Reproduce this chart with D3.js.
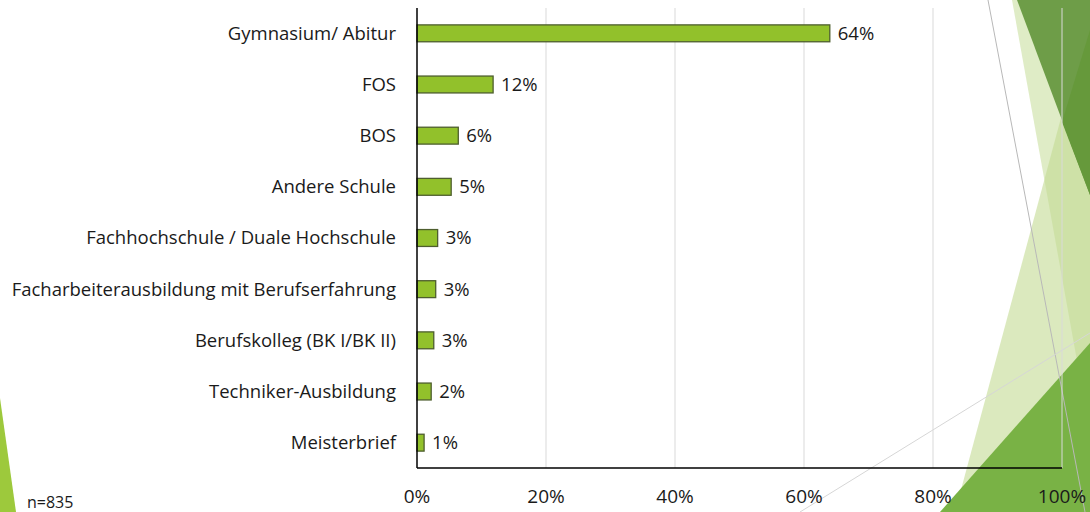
<!DOCTYPE html>
<html>
<head>
<meta charset="utf-8">
<script src="https://cdn.jsdelivr.net/npm/d3@7"></script>
<style>
  body { margin: 0; background: #fff; }
  svg { display: block; font-family: "Open Sans", sans-serif; }
</style>
</head>
<body>
<svg width="1090" height="512"></svg>
<script>
// data
const categories = [
  "Gymnasium/ Abitur",
  "FOS",
  "BOS",
  "Andere Schule",
  "Fachhochschule / Duale Hochschule",
  "Facharbeiterausbildung mit Berufserfahrung",
  "Berufskolleg (BK I/BK II)",
  "Techniker-Ausbildung",
  "Meisterbrief"
];
const shares = [64.0, 11.8, 6.4, 5.3, 3.2, 2.9, 2.6, 2.2, 1.1];
const xTicks = [0, 20, 40, 60, 80, 100];
const sampleNote = "n=835";

const svg = d3.select("svg"),
  width = +svg.attr("width"),
  height = +svg.attr("height");

// decorative slide background (not data)
const deco = svg.append("g");
const shape = d3.line();
deco.append("path").attr("d", shape([[0, 398], [16, 512], [0, 512]]) + "Z").attr("fill", "#9dc93c");
deco.append("path").attr("d", shape([[1012, 0], [1090, 0], [1090, 433]]) + "Z").attr("fill", "#c9e0a0").attr("opacity", 0.6);
deco.append("path").attr("d", shape([[1090, 10], [955, 512], [1090, 512]]) + "Z").attr("fill", "#c3db93").attr("opacity", 0.6);
deco.append("path").attr("d", shape([[1017, 0], [1090, 0], [1090, 195]]) + "Z").attr("fill", "#6e9d48");
deco.append("path").attr("d", shape([[1090, 30], [1062, 122], [1090, 195]]) + "Z").attr("fill", "#66993b");
deco.append("path").attr("d", shape([[940, 512], [1090, 343], [1090, 512]]) + "Z").attr("fill", "#79b245");
deco.append("line").attr("x1", 988).attr("y1", 0).attr("x2", 1085).attr("y2", 512)
  .attr("stroke", "#b8b8b8").attr("stroke-width", 1);
deco.append("line").attr("x1", 800).attr("y1", 512).attr("x2", 1090).attr("y2", 333)
  .attr("stroke", "#d6d6d6").attr("stroke-width", 1);

const margin = { top: 8, left: 417, right: 28, bottom: 44 };
const x = d3.scaleLinear().domain([0, 100]).range([margin.left, width - margin.right]);
const y = d3.scaleBand().domain(categories).range([margin.top, height - margin.bottom]).paddingInner(0.67).paddingOuter(0.33);

// gridlines
svg.append("g")
  .selectAll("line")
  .data(xTicks.slice(1))
  .enter()
  .append("line")
  .attr("x1", d => x(d)).attr("x2", d => x(d))
  .attr("y1", margin.top).attr("y2", height - margin.bottom)
  .attr("stroke", "#d9d9d9").attr("stroke-width", 1);

// x tick labels
svg.append("g")
  .selectAll("text")
  .data(xTicks)
  .enter()
  .append("text")
  .attr("x", d => x(d))
  .attr("y", 503)
  .attr("text-anchor", "middle")
  .attr("font-size", "19px")
  .attr("fill", "#1a1a1a")
  .text(d => d + "%");

// bars
svg.append("g")
  .selectAll("rect")
  .data(shares)
  .enter()
  .append("rect")
  .attr("x", x(0))
  .attr("y", (d, i) => y(categories[i]))
  .attr("width", d => x(d) - x(0))
  .attr("height", y.bandwidth())
  .attr("fill", "#92c12b")
  .attr("stroke", "#4e5e2e")
  .attr("stroke-width", 1.3);

// value labels
svg.append("g")
  .selectAll("text")
  .data(shares)
  .enter()
  .append("text")
  .attr("x", d => x(d) + 8)
  .attr("y", (d, i) => y(categories[i]) + y.bandwidth() / 2)
  .attr("dy", "0.35em")
  .attr("font-size", "18.5px")
  .attr("fill", "#1a1a1a")
  .text(d => d3.format(".0f")(d) + "%");

// category labels
svg.append("g")
  .selectAll("text")
  .data(categories)
  .enter()
  .append("text")
  .attr("x", margin.left - 21)
  .attr("y", d => y(d) + y.bandwidth() / 2)
  .attr("dy", "0.35em")
  .attr("text-anchor", "end")
  .attr("font-size", "18.5px")
  .attr("fill", "#1a1a1a")
  .text(d => d);

// axis lines
svg.append("line")
  .attr("x1", x(0)).attr("x2", x(0))
  .attr("y1", margin.top).attr("y2", height - margin.bottom)
  .attr("stroke", "#000").attr("stroke-width", 1.5);
svg.append("line")
  .attr("x1", x(0)).attr("x2", x(100))
  .attr("y1", height - margin.bottom).attr("y2", height - margin.bottom)
  .attr("stroke", "#000").attr("stroke-width", 1.5);

svg.append("text")
  .attr("x", 27)
  .attr("y", 508)
  .attr("font-size", "16px")
  .attr("fill", "#1a1a1a")
  .text(sampleNote);
</script>
</body>
</html>
